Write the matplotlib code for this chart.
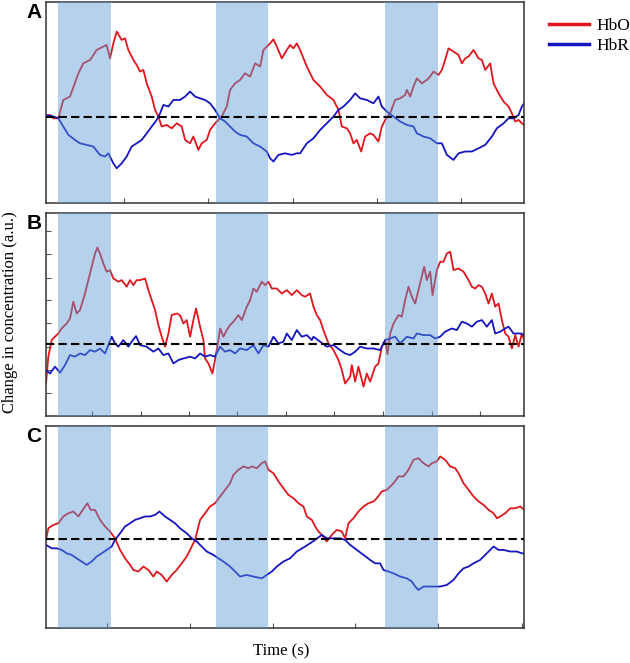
import numpy as np
import matplotlib
matplotlib.use("Agg")
import matplotlib.pyplot as plt

# Time axis runs 0-90 s, baseline of every panel is 0 (a.u.)
# Task blocks (shaded)
blocks = [(2.3, 12.2), (32.0, 41.8), (63.8, 73.8)]

# ---- Panel A ----
a_hbo_t = [0, 0.75, 1.38, 2.32, 3.26, 4.52, 6.09, 7.03, 8.29, 9.54, 10.8, 11.42, 12.05, 12.68, 13.31,
           14.25, 14.88, 15.5, 16.45, 17.07, 17.7, 18.33, 18.96, 19.9, 20.53, 21.15, 21.78, 22.72,
           23.66, 24.61, 25.55, 26.18, 27.12, 27.74, 28.69, 29.31, 30.26, 30.88, 31.82, 32.45, 33.08,
           34.02, 34.65, 35.59, 36.53, 37.47, 38.42, 39.36, 40.3, 40.93, 41.55, 42.18, 42.81, 43.44,
           44.38, 45.32, 45.95, 46.58, 47.2, 47.83, 49.09, 50.34, 51.6, 52.85, 54.11, 55.05, 55.68,
           56.62, 57.25, 57.87, 58.5, 59.32, 60.07, 61.01, 61.64, 62.58, 63.21, 63.84, 64.78, 65.72,
           66.66, 67.6, 67.92, 68.54, 69.17, 69.8, 70.74, 71.68, 72.31, 72.94, 73.88, 74.51, 75.13,
           75.76, 76.7, 77.65, 78.27, 78.9, 79.53, 80.47, 81.41, 82.04, 82.67, 83.61, 84.24, 85.18,
           86.12, 87.06, 87.69, 88.32, 88.95, 89.57, 90.0]
a_hbo_v = [0.02, 0.1, -0.07, -0.07, 0.85, 1.02, 2.18, 2.68, 2.85, 3.35, 3.52, 3.6, 2.93, 3.68, 4.27,
           3.85, 3.93, 3.35, 2.85, 2.6, 2.27, 2.35, 1.68, 1.02, 0.35, 0.02, -0.48, -0.4,
           -0.57, -0.32, -0.48, -1.15, -1.32, -0.98, -1.65, -1.32, -1.15, -0.65, -0.32, -0.15, 0.02,
           0.52, 1.35, 1.68, 1.85, 2.18, 2.02, 2.68, 2.52, 3.35, 3.52, 3.68, 3.88, 3.52,
           2.93, 3.35, 3.6, 3.43, 3.68, 3.35, 2.52, 1.85, 1.52, 1.1, 0.85, 0.35, -0.48,
           -0.57, -0.82, -1.32, -1.15, -1.73, -0.98, -0.82, -0.9, -1.23, -0.48, -0.15, 0.18, 0.85,
           0.93, 1.1, 1.35, 1.02, 1.52, 1.93, 1.68, 1.85, 2.02, 2.27, 2.1, 2.35, 2.85,
           3.43, 3.27, 3.1, 2.68, 2.93, 3.02, 3.35, 2.93, 2.85, 2.35, 2.68, 1.68, 1.18,
           0.77, 0.52, 0.18, -0.23, -0.15, -0.32, -0.4]
a_hbr_t = [0, 1.38, 2.32, 3.26, 4.21, 5.46, 6.4, 7.66, 8.91, 10.17, 11.11, 11.74, 12.68, 13.31, 14.25,
           15.19, 16.13, 17.07, 18.01, 18.96, 19.9, 20.84, 21.47, 22.1, 23.04, 23.98, 25.23, 26.18,
           27.12, 28.06, 29.0, 29.94, 30.88, 31.82, 32.77, 33.71, 34.65, 35.59, 36.53, 37.79, 39.04,
           40.3, 41.55, 42.18, 42.81, 43.75, 45.0, 46.26, 47.2, 47.83, 49.09, 50.34, 51.6, 52.85,
           54.11, 55.05, 55.99, 57.25, 58.19, 59.13, 60.38, 61.64, 62.58, 63.21, 64.15, 65.41, 66.66,
           67.92, 69.17, 69.8, 71.06, 72.31, 73.57, 74.51, 75.45, 76.7, 77.65, 78.9, 80.16, 81.41,
           82.67, 83.92, 84.86, 86.12, 87.06, 88.0, 88.95, 89.57, 90.0]
a_hbr_v = [0.1, 0.02, -0.07, -0.48, -0.9, -1.15, -1.32, -1.4, -1.48, -1.9, -1.98, -1.82, -2.32, -2.57, -2.32,
           -1.98, -1.48, -1.32, -1.15, -0.82, -0.48, -0.15, 0.18, 0.6, 0.52, 0.85, 0.85, 1.02,
           1.27, 1.02, 0.93, 0.85, 0.68, 0.35, -0.07, -0.23, -0.48, -0.73, -0.9, -0.98, -1.32,
           -1.48, -1.73, -2.07, -2.23, -1.9, -1.82, -1.9, -1.82, -1.82, -1.32, -1.07, -0.65, -0.32,
           0.02, 0.35, 0.52, 0.85, 1.18, 0.93, 0.85, 0.68, 1.02, 0.52, 0.27, 0.02, -0.23,
           -0.4, -0.48, -0.82, -0.98, -1.07, -1.32, -1.32, -1.9, -2.15, -1.82, -1.73, -1.73, -1.57,
           -1.4, -0.98, -0.57, -0.32, -0.07, -0.07, 0.1, 0.52, 0.68]

# ---- Panel B ----
b_hbo_t = [0, 0.44, 1.07, 1.69, 2.32, 2.95, 3.89, 4.52, 5.15, 5.77, 6.4, 7.34, 7.97, 8.6, 9.23, 9.67,
           10.17, 10.8, 11.42, 12.05, 12.68, 13.62, 14.25, 15.19, 15.82, 16.45, 17.07, 17.7, 18.64,
           19.27, 19.9, 20.53, 21.15, 21.78, 22.41, 23.04, 23.66, 24.61, 25.23, 25.86, 26.49, 27.12,
           27.74, 28.25, 29.0, 29.63, 29.94, 30.57, 31.32, 31.82, 32.45, 32.77, 33.39, 34.02, 34.65,
           35.28, 36.22, 36.85, 37.79, 38.42, 39.04, 39.67, 40.61, 41.24, 41.87, 42.5, 43.44, 44.38,
           45.32, 46.26, 47.2, 48.14, 48.77, 49.71, 50.34, 50.97, 51.6, 52.22, 53.17, 54.11, 55.05,
           55.68, 56.3, 57.25, 57.56, 58.19, 58.81, 59.76, 60.38, 61.01, 61.95, 62.58, 63.21, 63.84,
           64.28, 64.78, 65.41, 66.35, 66.97, 67.6, 68.23, 68.86, 69.49, 70.11, 70.74, 71.18, 71.68,
           72.31, 72.75, 73.57, 74.19, 74.82, 75.45, 76.08, 76.7, 77.65, 78.59, 79.53, 80.16, 80.78,
           81.41, 82.04, 82.67, 83.3, 83.92, 84.55, 85.18, 85.81, 86.43, 87.06, 87.69, 88.32, 88.95,
           89.57, 90.0]
b_hbo_v = [-1.97, -0.63, 0.2, 0.37, 0.53, 0.78, 1.03, 1.28, 2.12, 1.53, 1.7, 2.53, 3.2, 3.87, 4.53, 4.83,
           4.53, 4.03, 3.62, 3.7, 3.28, 3.12, 3.2, 2.87, 3.2, 2.95, 3.2, 3.2, 3.28,
           2.7, 2.2, 1.7, 0.95, 0.37, -0.13, 0.53, 1.45, 1.53, 1.45, 1.03, 1.2, 0.37,
           1.2, 1.78, 0.87, 0.2, -0.72, -0.97, -1.47, -0.8, 0.2, 0.78, 0.37, 0.7, 0.95,
           1.12, 1.45, 1.2, 1.87, 2.2, 2.78, 2.62, 3.12, 2.95, 3.12, 2.78, 2.78, 2.53,
           2.7, 2.45, 2.7, 2.45, 2.37, 2.53, 1.87, 1.45, 1.2, 0.7, 0.03, -0.3, -0.8,
           -1.3, -1.97, -1.63, -1.05, -1.88, -1.13, -2.13, -1.47, -1.88, -1.13, -0.97, -0.13, 0.2,
           -0.5, 0.53, 1.03, 1.45, 1.37, 2.2, 2.87, 2.37, 2.03, 2.7, 3.37, 3.87, 3.2,
           3.62, 2.45, 3.7, 4.12, 4.12, 4.53, 4.62, 3.7, 3.78, 3.62, 3.2, 2.87, 2.78,
           2.95, 2.87, 2.53, 2.03, 2.53, 1.87, 2.03, 1.2, 0.53, 0.37, -0.22, 0.45, -0.13,
           0.53, 0.2]
b_hbr_t = [0, 0.75, 1.69, 2.64, 3.58, 4.52, 5.46, 6.4, 7.34, 8.29, 9.23, 10.17, 11.11, 11.74, 12.37,
           12.99, 13.62, 14.56, 15.5, 16.13, 16.95, 17.7, 18.96, 20.21, 21.15, 22.1, 23.04, 23.98,
           24.92, 25.86, 27.12, 28.06, 29.0, 29.94, 30.88, 31.82, 32.77, 33.71, 34.65, 35.59, 36.53,
           37.79, 39.04, 39.98, 40.93, 41.87, 42.81, 43.75, 44.69, 45.32, 46.26, 47.2, 48.14, 49.09,
           50.03, 50.34, 51.6, 52.85, 54.11, 55.36, 56.3, 57.25, 58.19, 59.13, 60.38, 61.64, 62.89,
           63.84, 64.78, 65.72, 66.66, 67.92, 69.17, 69.8, 71.06, 72.31, 73.25, 74.19, 75.13, 76.39,
           77.33, 78.27, 79.22, 80.16, 81.1, 82.04, 82.98, 83.92, 84.55, 85.49, 86.43, 87.06, 88.0,
           89.26, 90.0]
b_hbr_v = [-1.3, -1.47, -1.13, -1.43, -1.05, -0.55, -0.63, -0.47, -0.55, -0.3, -0.38, -0.22, -0.47, -0.05, 0.37,
           0.03, -0.13, 0.2, -0.13, 0.12, 0.4, -0.05, -0.13, -0.38, -0.22, -0.55, -0.47, -0.97,
           -0.8, -0.72, -0.63, -0.72, -0.47, -0.63, -0.55, -0.63, -0.13, -0.38, -0.3, -0.47, -0.22,
           -0.3, -0.05, -0.47, -0.05, -0.13, 0.37, 0.03, 0.12, 0.53, 0.2, 0.7, 0.37, 0.45,
           0.2, 0.37, 0.12, -0.13, -0.05, -0.3, -0.47, -0.55, -0.38, -0.13, -0.22, -0.22, -0.3,
           0.2, 0.28, 0.37, 0.03, 0.37, 0.28, 0.53, 0.45, 0.45, 0.28, 0.37, 0.62, 0.78,
           0.7, 1.12, 1.03, 0.87, 1.12, 1.2, 0.87, 1.2, 0.53, 0.62, 0.78, 0.87, 0.53,
           0.53, 0.45]

# ---- Panel C ----
c_hbo_t = [0, 0.44, 1.38, 2.32, 3.26, 4.21, 5.15, 6.09, 6.72, 7.34, 7.78, 8.41, 9.23, 10.17, 11.11,
           12.05, 12.99, 13.94, 14.88, 15.82, 16.45, 17.39, 18.33, 19.27, 20.21, 20.84, 21.78, 22.72,
           23.66, 24.61, 25.55, 26.49, 27.43, 28.06, 29.0, 29.94, 30.88, 31.82, 32.77, 33.71, 34.65,
           35.28, 36.22, 37.16, 38.1, 38.73, 39.67, 40.61, 41.24, 41.87, 42.81, 43.75, 44.69, 45.63,
           46.58, 47.52, 48.46, 49.09, 50.03, 50.66, 51.28, 51.91, 52.85, 53.79, 54.73, 55.68, 56.3,
           56.93, 57.87, 58.81, 59.76, 60.7, 61.64, 62.27, 63.21, 64.15, 65.41, 66.35, 67.29, 68.23,
           69.17, 70.11, 71.06, 72.0, 72.63, 73.57, 74.19, 75.13, 76.08, 77.02, 77.65, 78.59, 79.53,
           80.47, 81.41, 82.35, 83.3, 84.24, 84.87, 85.49, 86.43, 87.38, 88.32, 89.26, 90.0]
c_hbo_v = [-0.05, 0.53, 0.7, 0.78, 1.12, 1.28, 1.37, 1.12, 1.37, 1.62, 1.78, 1.45, 1.45, 0.95, 0.62,
           0.37, 0.03, -0.55, -0.97, -1.3, -1.55, -1.63, -1.38, -1.55, -1.88, -1.63, -1.8, -2.13,
           -1.8, -1.55, -1.22, -0.88, -0.38, -0.05, 0.95, 1.28, 1.62, 1.78, 2.12, 2.45, 2.78,
           3.2, 3.45, 3.62, 3.53, 3.62, 3.53, 3.78, 3.87, 3.45, 3.28, 2.87, 2.53, 2.2,
           2.03, 1.78, 1.62, 1.12, 0.95, 0.62, 0.37, 0.2, -0.13, 0.2, 0.45, 0.37, 0.03,
           0.78, 1.03, 1.37, 1.62, 1.78, 1.87, 2.03, 2.37, 2.45, 2.78, 3.12, 3.12, 3.45,
           3.95, 4.03, 3.78, 3.62, 3.78, 3.87, 4.12, 3.95, 3.62, 3.53, 3.28, 2.78, 2.45,
           2.12, 1.87, 1.7, 1.45, 1.28, 1.03, 1.12, 1.28, 1.53, 1.53, 1.62, 1.45]
c_hbr_t = [0, 1.07, 2.01, 2.95, 3.89, 4.83, 5.77, 6.72, 7.66, 8.6, 9.54, 10.48, 11.42, 12.37, 12.99,
           13.94, 14.88, 15.82, 16.76, 17.7, 18.64, 19.58, 20.53, 21.34, 22.41, 23.35, 24.29, 25.23,
           26.49, 27.43, 28.37, 29.31, 30.26, 31.51, 32.45, 33.39, 34.65, 35.59, 36.53, 37.79, 39.04,
           40.61, 41.55, 42.5, 43.44, 44.69, 45.95, 47.2, 48.77, 49.71, 50.66, 51.91, 52.85, 54.11,
           55.36, 56.3, 57.25, 58.5, 59.76, 61.01, 61.95, 62.89, 63.52, 64.46, 65.41, 66.66, 67.92,
           68.86, 69.49, 70.11, 71.06, 72.31, 73.25, 74.19, 75.45, 76.7, 77.65, 78.59, 79.53, 80.47,
           81.72, 82.67, 83.61, 84.24, 85.18, 86.12, 87.38, 88.63, 89.57, 90.0]
c_hbr_v = [-0.3, -0.47, -0.47, -0.55, -0.72, -0.8, -0.97, -1.13, -1.3, -1.13, -0.88, -0.72, -0.55, -0.38, -0.05,
           0.28, 0.62, 0.78, 0.95, 1.03, 1.12, 1.12, 1.2, 1.37, 1.12, 0.95, 0.78, 0.53,
           0.28, 0.03, -0.13, -0.38, -0.63, -0.8, -0.97, -1.13, -1.38, -1.63, -1.88, -1.8, -1.88,
           -1.97, -1.8, -1.63, -1.38, -1.13, -0.97, -0.63, -0.38, -0.22, -0.05, 0.2, 0.03, 0.03,
           0.03, -0.05, -0.3, -0.55, -0.8, -1.05, -1.22, -1.22, -1.55, -1.63, -1.72, -1.88, -1.97,
           -2.13, -2.38, -2.55, -2.38, -2.38, -2.38, -2.38, -2.3, -2.05, -1.72, -1.47, -1.38, -1.22,
           -1.05, -0.8, -0.55, -0.38, -0.55, -0.55, -0.63, -0.63, -0.72, -0.72]

# tick positions seen on each panel
ticks_a = [14.7, 30.5, 46.5, 62.3, 78.1]
ticks_b = [8.7, 17.9, 26.9, 36.0, 45.2, 54.2, 63.5, 72.7, 81.7]
ticks_b_y = [5.67, 4.53, 3.33, 2.2, 1.03, -0.13, -1.3, -2.47]
ticks_c = [11.5, 27.1, 42.7, 58.2, 73.8, 89.6]

red = '#e0161c'
blue = '#1414c0'
shade = '#5b9bd5'
serif = 'Liberation Serif'

fig = plt.figure(figsize=(6.3, 6.63), dpi=100)

panels = [
    ('A', [0.073, 0.694, 0.759, 0.303], a_hbo_t, a_hbo_v, a_hbr_t, a_hbr_v, (-4.3, 5.75), ticks_a, []),
    ('B', [0.073, 0.3725, 0.759, 0.306], b_hbo_t, b_hbo_v, b_hbr_t, b_hbr_v, (-3.6, 6.55), ticks_b, ticks_b_y),
    ('C', [0.073, 0.0528, 0.759, 0.305], c_hbo_t, c_hbo_v, c_hbr_t, c_hbr_v, (-4.45, 5.65), ticks_c, []),
]

for letter, rect, ot, ov, rt, rv, ylim, xt, yt in panels:
    ax = fig.add_axes(rect)
    l1, = ax.plot(ot, ov, color=red, lw=1.3, zorder=2)
    l2, = ax.plot(rt, rv, color=blue, lw=1.3, zorder=2)
    # shading is on top of the traces, that's why the red looks purple inside the blocks
    for b0, b1 in blocks:
        ax.axvspan(b0, b1, color=shade, alpha=0.45, lw=0, zorder=3)
    ax.axhline(0, color='black', lw=1.5, dashes=(4, 2), zorder=4)
    ax.set_xlim(0, 90)
    ax.set_ylim(*ylim)
    ax.set_xticks(xt)
    ax.set_yticks(yt)
    ax.tick_params(direction='in', length=3.5, color='#555555', labelbottom=False, labelleft=False)
    for s in ax.spines.values():
        s.set_color('#333333')
        s.set_linewidth(1.1)
    top = 1 - (rect[1] + rect[3])
    fig.text(0.042, 1 - top - 0.002, letter, fontsize=15, fontweight='bold',
             family='Liberation Sans', ha='left', va='top')

# legend outside, top right
fig.legend([l1, l2], ['HbO', 'HbR'], loc='upper left', bbox_to_anchor=(0.847, 0.997),
           frameon=False, prop={'family': serif, 'size': 12.5}, handlelength=2.3,
           handletextpad=0.4, labelspacing=0.25)
for line in fig.legends[0].get_lines():
    line.set_linewidth(2.5)

fig.text(0.016, 1 - 312 / 663, 'Change in concentration (a.u.)', rotation=90, va='center',
         ha='center', family=serif, fontsize=12)
fig.text(0.447, 1 - 651 / 663, 'Time (s)', ha='center', va='center', family=serif, fontsize=12)

fig.savefig('out.png', dpi=100)
